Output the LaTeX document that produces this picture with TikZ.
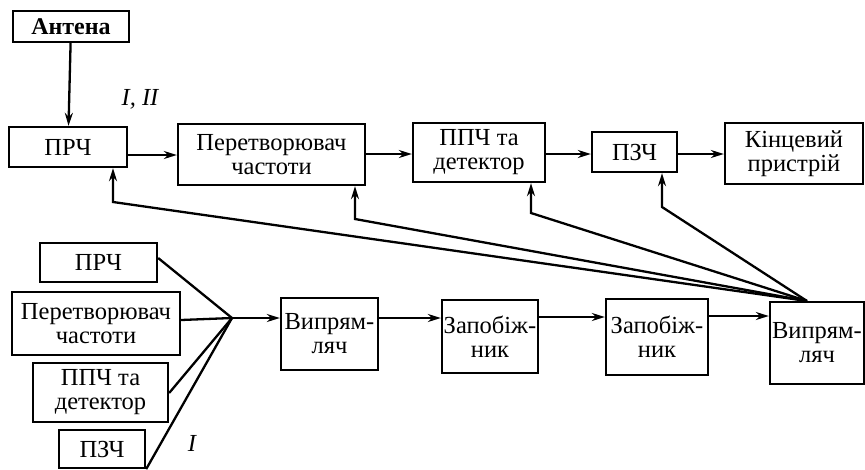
\documentclass[tikz,border=0pt]{standalone}
\usepackage{fontspec}
\setmainfont{Liberation Serif}
\usetikzlibrary{arrows.meta}
\begin{document}
\begin{tikzpicture}[x=1pt,y=-1pt,
  box/.style={draw,line width=2.3pt,inner sep=0pt,align=center,
    font=\fontsize{24.5}{24}\selectfont},
  conn/.style={line width=2.3pt},
  arr/.style={conn,-{Stealth[length=13pt,width=8pt]}},
  lbl/.style={font=\fontsize{24.5}{24}\selectfont\itshape}]
\useasboundingbox (0,0) rectangle (865,469);
% top row
\node[box,minimum width=116pt,minimum height=31pt,font=\fontsize{24}{24}\selectfont\bfseries] (ant) at (71,26.5) {Антена};
\node[box,minimum width=118pt,minimum height=40pt] (prc1) at (68,147) {ПРЧ};
\node[box,minimum width=187pt,minimum height=61pt] (pf1) at (271.5,154.5) {Перетворювач\\частоти};
\node[box,minimum width=132pt,minimum height=59pt] (ppch1) at (479,152.5) {ППЧ та\\детектор};
\node[box,minimum width=85pt,minimum height=40pt] (pzch1) at (634.5,152) {ПЗЧ};
\node[box,minimum width=138pt,minimum height=61pt] (kin) at (794,153.5) {Кінцевий\\пристрій};
\node[lbl] (l12) at (140,99) {I, II};
% bottom left
\node[box,minimum width=117pt,minimum height=39pt] (b1) at (98.5,262.5) {ПРЧ};
\node[box,minimum width=168pt,minimum height=63pt] (b2) at (96,323.5) {Перетворювач\\частоти};
\node[box,minimum width=135pt,minimum height=59pt] (b3) at (100.5,392.5) {ППЧ та\\детектор};
\node[box,minimum width=86pt,minimum height=38pt] (b4) at (102,449) {ПЗЧ};
\node[lbl] (l1) at (192,443) {I};
\coordinate (j) at (232,318);
% bottom row
\node[box,minimum width=97pt,minimum height=72pt] (vr1) at (329.5,334) {Випрям-\\ляч};
\node[box,minimum width=96pt,minimum height=73pt] (z1) at (490,336.5) {Запобіж-\\ник};
\node[box,minimum width=102pt,minimum height=76pt] (z2) at (657,337) {Запобіж-\\ник};
\node[box,minimum width=94pt,minimum height=82pt] (vr2) at (817,343) {Випрям-\\ляч};
% top connectors
\draw[arr] (ant) -- (prc1);
\draw[arr] (prc1.east |- 0,155) -- (pf1.west |- 0,155);
\draw[arr] (pf1.east |- 0,154) -- (ppch1.west |- 0,154);
\draw[arr] (ppch1.east |- 0,154) -- (pzch1.west |- 0,154);
\draw[arr] (pzch1.east |- 0,154) -- (kin.west |- 0,154);
% feedback
\coordinate (src) at (807,301);
\coordinate (f1) at (113,202);
\coordinate (f2) at (355,219);
\coordinate (f3) at (531,213);
\coordinate (f4) at (662,207);
\draw[arr] (src) -- (f1) -- (f1 |- prc1.south);
\draw[arr] (src) -- (f2) -- (f2 |- pf1.south);
\draw[arr] (src) -- (f3) -- (f3 |- ppch1.south);
\draw[arr] (src) -- (f4) -- (f4 |- pzch1.south);
% bottom left to junction
\draw[conn] (b1.east |- 0,258) -- (j);
\draw[conn] (b2.east |- 0,320) -- (j);
\draw[conn] (b3.east |- 0,393) -- (j);
\draw[conn] (b4.south east) -- (j);
% bottom row
\draw[arr] (j) -- (vr1.west |- j);
\draw[arr] (vr1.east |- 0,318) -- (z1.west |- 0,318);
\draw[arr] (z1.east |- 0,317) -- (z2.west |- 0,317);
\draw[arr] (z2.east |- 0,316) -- (vr2.west |- 0,316);
\end{tikzpicture}
\end{document}
